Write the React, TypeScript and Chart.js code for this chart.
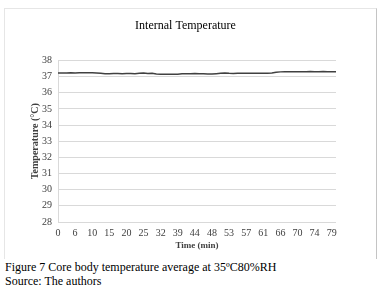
import React, { useEffect, useRef } from "react";
import { Chart, registerables } from "chart.js";

Chart.register(...registerables);

const tickLabels = ["0", "6", "10", "15", "20", "25", "32", "39", "44", "48", "53", "57", "61", "66", "70", "74", "79"];
const labelEvery = 4;
const temperature = [
  37.22, 37.22, 37.22, 37.23, 37.22, 37.23, 37.24, 37.24, 37.23, 37.22,
  37.2, 37.18, 37.18, 37.19, 37.19, 37.18, 37.19, 37.19, 37.18, 37.2,
  37.22, 37.19, 37.2, 37.16, 37.15, 37.14, 37.14, 37.14, 37.15, 37.17,
  37.17, 37.18, 37.19, 37.18, 37.17, 37.16, 37.16, 37.18, 37.2, 37.22,
  37.2, 37.19, 37.2, 37.2, 37.2, 37.21, 37.2, 37.21, 37.2, 37.21,
  37.22, 37.26, 37.29, 37.3, 37.3, 37.29, 37.3, 37.3, 37.3, 37.31,
  37.3, 37.3, 37.31, 37.3, 37.3, 37.3,
];
const yMin = 28;
const yMax = 38;

const FONT = "'Liberation Serif', 'Times New Roman', serif";

export default function App() {
  const ref = useRef<HTMLCanvasElement | null>(null);

  useEffect(() => {
    if (!ref.current) return;
    const labels = temperature.map((_, i) => (i % labelEvery === 0 ? tickLabels[i / labelEvery] ?? "" : ""));
    const chart = new Chart(ref.current, {
      type: "line",
      data: {
        labels,
        datasets: [
          {
            data: temperature,
            borderColor: "#404040",
            borderWidth: 1.5,
            pointRadius: 0,
            tension: 0,
            yAxisID: "y",
          },
        ],
      },
      options: {
        responsive: false,
        animation: false,
        layout: { padding: { left: 0, right: 10, top: 0, bottom: 0 } },
        plugins: {
          legend: { display: false },
          tooltip: { enabled: false },
          title: {
            display: true,
            text: "Internal Temperature",
            color: "#000",
            font: { family: FONT, size: 12, weight: "normal" },
            padding: { top: 11, bottom: 27 },
          },
        },
        scales: {
          x: {
            type: "category",
            grid: { display: false, drawTicks: false },
            border: { display: false },
            ticks: {
              autoSkip: false,
              maxRotation: 0,
              padding: 5,
              color: "#404040",
              font: { family: FONT, size: 10 },
            },
            title: {
              display: true,
              text: "Time (min)",
              color: "#404040",
              font: { family: FONT, size: 9, weight: "bold" },
              padding: { top: 0, bottom: 8 },
            },
            afterFit: (s: any) => {
              s.height = 37;
            },
          },
          y: {
            min: yMin,
            max: yMax,
            ticks: {
              stepSize: 1,
              padding: 6,
              color: "#404040",
              font: { family: FONT, size: 10 },
            },
            grid: { color: "#d9d9d9", drawTicks: false, lineWidth: 1 },
            border: { display: true, color: "#d9d9d9" },
            title: {
              display: true,
              text: "Temperature (°C)",
              color: "#404040",
              font: { family: FONT, size: 10, weight: "bold" },
              padding: { top: 25, bottom: 0 },
            },
            afterFit: (s: any) => {
              s.width = 54;
            },
          },
          y2: {
            position: "right",
            display: true,
            min: yMin,
            max: yMax,
            grid: { display: false, drawTicks: false },
            border: { display: false },
            ticks: { display: false },
            afterFit: (s: any) => {
              s.width = 31;
            },
          },
        },
      },
    });
    return () => chart.destroy();
  }, []);

  return (
    <>
      <div
        style={{
          position: "absolute",
          left: 4,
          top: 8,
          width: 373,
          height: 251,
          boxSizing: "border-box",
          borderTop: "1px solid #e6e6e6",
          borderLeft: "1px solid #e6e6e6",
          borderRight: "1px solid #c4c4c4",
        }}
      />
      <canvas
        ref={ref}
        width={373}
        height={251}
        style={{ position: "absolute", left: 4, top: 8, width: 373, height: 251 }}
      />
      <div
        style={{
          position: "absolute",
          left: 5,
          top: 260,
          fontFamily: FONT,
          fontSize: 12,
          lineHeight: "14px",
          color: "#000",
          whiteSpace: "nowrap",
        }}
      >
        <div>Figure 7 Core body temperature average at 35ºC80%RH</div>
        <div>Source: The authors</div>
      </div>
    </>
  );
}
